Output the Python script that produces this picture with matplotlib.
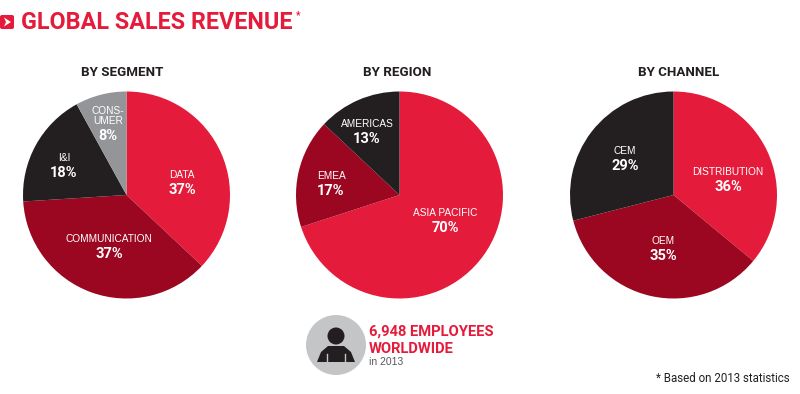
import matplotlib
matplotlib.use("Agg")
import matplotlib.pyplot as plt
from matplotlib.patches import Circle, FancyBboxPatch, Polygon

W, H = 800, 394
RED, DARK, BLACK, GREY = "#e41b3a", "#9b0720", "#231f20", "#939598"
NARROW = ["Roboto", "DejaVu Sans"]
PLAIN = ["Liberation Sans", "DejaVu Sans"]

segment_names = ["DATA", "COMMUNICATION", "I&I", "CONS-\nUMER"]
segment_vals = [37, 37, 18, 8]
segment_cols = [RED, DARK, BLACK, GREY]
region_names = ["ASIA PACIFIC", "EMEA", "AMERICAS"]
region_vals = [70, 17, 13]
region_cols = [RED, DARK, BLACK]
channel_names = ["DISTRIBUTION", "OEM", "CEM"]
channel_vals = [36, 35, 29]
channel_cols = [RED, DARK, BLACK]

fig = plt.figure(figsize=(W / 100, H / 100), dpi=100, facecolor="white")
# overlay in image pixels, y pointing down
bg = fig.add_axes([0, 0, 1, 1], zorder=3)
bg.set_xlim(0, W); bg.set_ylim(H, 0); bg.axis("off"); bg.patch.set_alpha(0)


def pie(cx, cy, r, vals, cols):
    ax = fig.add_axes([(cx - r) / W, 1 - (cy + r) / H, 2 * r / W, 2 * r / H])
    ax.pie(vals, colors=cols, startangle=90, counterclock=False, radius=1,
           wedgeprops={"linewidth": 0})
    ax.set_xlim(-1, 1); ax.set_ylim(-1, 1)


def label(x, y, name, val, gap=14.5):
    lines = name.split("\n")
    for i, s in enumerate(lines):
        bg.text(x, y + i * 10, s, color="white", fontsize=7.3, family=PLAIN,
                ha="center", va="center")
    bg.text(x, y + (len(lines) - 1) * 10 + gap, f"{val}%", color="white", fontsize=10.5,
            family=NARROW, weight="bold", ha="center", va="center")


pie(126.5, 195, 103.5, segment_vals, segment_cols)
pie(399.5, 195, 103.5, region_vals, region_cols)
pie(673.5, 195, 103.5, channel_vals, channel_cols)

segment_pos = [(182, 175), (109, 239), (64, 158), (108, 111)]
region_pos = [(445, 213), (331, 176), (367, 124)]
channel_pos = [(728, 172), (663, 241), (625, 151)]
for names, vals, pos in [(segment_names, segment_vals, segment_pos),
                         (region_names, region_vals, region_pos),
                         (channel_names, channel_vals, channel_pos)]:
    for n, v, p in zip(names, vals, pos):
        label(p[0], p[1], n, v)

for x, s in [(122, "BY SEGMENT"), (397, "BY REGION"), (679, "BY CHANNEL")]:
    bg.text(x, 72, s, color=BLACK, fontsize=9.6, family=NARROW, weight="bold",
            ha="center", va="center")

# title block
bg.add_patch(FancyBboxPatch((0, 15), 14, 14, boxstyle="round,pad=0,rounding_size=2",
                            fc=RED, ec="none"))
bg.add_patch(Polygon([(4, 17.5), (11, 22), (4, 26.5), (6, 22)], fc="white", ec="none"))
bg.text(21, 22, "GLOBAL SALES REVENUE", color=RED, fontsize=16.8, family=NARROW,
        weight="bold", ha="left", va="center")
bg.text(296, 15, "*", color=RED, fontsize=7, family=NARROW, weight="bold",
        ha="left", va="center")

# employee badge
bg.add_patch(Circle((336, 345), 30, fc="#c4c5c7", ec="none"))
bg.add_patch(Circle((336, 336), 8.5, fc=BLACK, ec="none"))
bg.add_patch(Polygon([(317, 362), (321, 352), (328, 346), (344, 346), (351, 352), (355, 362)],
                     fc=BLACK, ec="none"))
for x in (327, 345):
    bg.plot([x, x], [354, 362], color="#c4c5c7", lw=1)
bg.text(369, 332, "6,948 EMPLOYEES", color=RED, fontsize=10.6, family=NARROW, weight="bold",
        ha="left", va="center")
bg.text(369, 349, "WORLDWIDE", color=RED, fontsize=10.6, family=NARROW, weight="bold",
        ha="left", va="center")
bg.text(369, 362, "in 2013", color="#58595b", fontsize=7.5, family=PLAIN,
        ha="left", va="center")

bg.text(790, 379, "* Based on 2013 statistics", color=BLACK, fontsize=8.3, family=NARROW,
        ha="right", va="center")

fig.savefig("out.png", dpi=100)
